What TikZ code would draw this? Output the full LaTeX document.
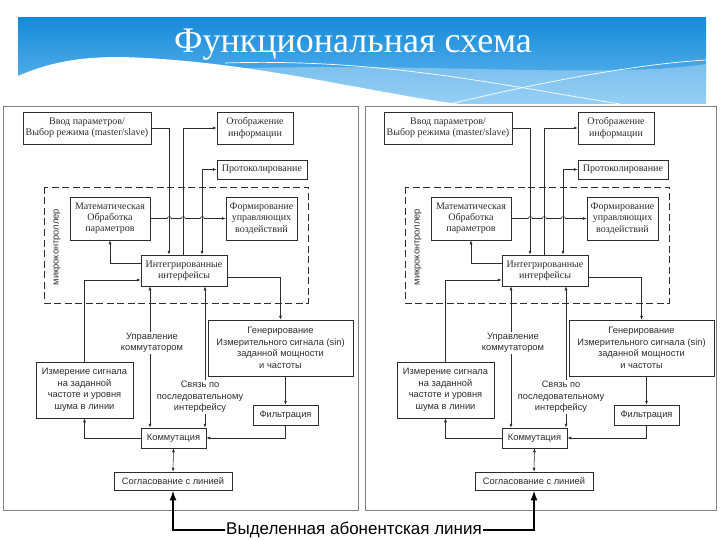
\documentclass[tikz,border=0pt]{standalone}
\usepackage{fontspec}
\setmainfont{Liberation Serif}
\setsansfont{Liberation Sans}
\usetikzlibrary{arrows.meta}

\newcommand{\boxrm}{\rmfamily\fontsize{10}{11.2}\selectfont}
\newcommand{\boxsf}{\sffamily\fontsize{9.3}{11.5}\selectfont}
\definecolor{bannerdark}{RGB}{22,138,218}
\definecolor{bannerlight}{RGB}{105,188,240}
\definecolor{ink}{RGB}{45,45,45}

\tikzset{
  blk/.style={draw=ink, line width=0.5pt, fill=white, align=center, inner sep=1pt, text=ink, font=\boxrm},
  sblk/.style={blk, font=\boxsf},
  conn/.style={draw=ink, line width=0.55pt},
  arr/.style={conn, -{Latex[length=4pt,width=3pt]}},
  darr/.style={conn, {Latex[length=4pt,width=3pt]}-{Latex[length=4pt,width=3pt]}},
  lbl/.style={fill=white, align=center, text=ink, font=\boxsf, inner sep=1pt},
  abline/.style={line width=2pt, -{Latex[length=10pt,width=7pt]}}
}

\begin{document}
\begin{tikzpicture}[x=1pt,y=-1pt]
\useasboundingbox (0,0) rectangle (720,540);

% banner
\shade[top color=bannerdark, bottom color=bannerlight] (18,18) rectangle (706,104);
\fill[white, opacity=0.3] (200,70) .. controls (400,60) and (600,80) .. (706,64) -- (706,104) -- (300,104) -- cycle;
\fill[white] (18,76) .. controls (50,62) and (80,57) .. (120,57) .. controls (250,60) and (380,95) .. (460,104) -- (18,104) -- cycle;
\draw[white, line width=0.7pt] (225,63) .. controls (380,58) and (500,85) .. (620,104);
\draw[white, line width=0.7pt] (450,104) .. controls (550,80) and (640,64) .. (706,60);
\node[text=white, font=\fontsize{36}{38}\selectfont, anchor=base] (title) at (353,53) {Функциональная схема};

% panels
\draw[gray, line width=0.8pt] (3,106) rectangle (358,510);
\draw[gray, line width=0.8pt] (365,106) rectangle (716,510);

\foreach \p/\dx in {l/0, r/361}{
\begin{scope}[xshift=\dx]
  \draw[ink, line width=0.5pt, dash pattern=on 7pt off 3.5pt] (44,187) rectangle (308,303);
  \node[sblk, draw=none, fill=none, rotate=90] (\p mk) at (57,247) {микроконтроллер};

  \node[blk, minimum width=128, minimum height=32] (\p vvod) at (87,128) {Ввод параметров/\\Выбор режима (master/slave)};
  \node[blk, minimum width=76, minimum height=32] (\p otobr) at (255,128) {Отображение\\информации};
  \node[blk, minimum width=90, minimum height=19] (\p protok) at (262,169.5) {Протоколирование};
  \node[blk, minimum width=80, minimum height=43] (\p matem) at (110,218.5) {Математическая\\Обработка\\параметров};
  \node[blk, minimum width=71, minimum height=43] (\p form) at (261.5,218.5) {Формирование\\управляющих\\воздействий};
  \node[blk, minimum width=86, minimum height=31] (\p integr) at (184,270.5) {Интегрированные\\интерфейсы};
  \node[sblk, minimum width=145, minimum height=56] (\p gener) at (280.5,348) {Генерирование\\Измерительного сигнала (sin)\\заданной мощности\\и частоты};
  \node[sblk, minimum width=65, minimum height=20] (\p filtr) at (285.5,415) {Фильтрация};
  \node[sblk, minimum width=97, minimum height=56] (\p izmer) at (84.5,390) {Измерение сигнала\\на заданной\\частоте и уровня\\шума в линии};
  \node[sblk, minimum width=65, minimum height=20] (\p komm) at (173.5,438) {Коммутация};
  \node[sblk, minimum width=118, minimum height=18] (\p sogl) at (173,481) {Согласование с линией};

  \draw[arr] (\p vvod.east) -| ([xshift=-15pt]\p integr.north);
  \draw[arr] ([xshift=-1pt]\p integr.north) |- (\p otobr.west);
  \draw[darr] ([xshift=18pt]\p integr.north) |- (\p protok.west);
  \draw[arr] (\p matem.east) -- ++(17,0) arc[start angle=180, end angle=360, radius=2]
    -- ++(10,0) arc[start angle=180, end angle=360, radius=2]
    -- ++(15,0) arc[start angle=180, end angle=360, radius=2] -- (\p form.west);
  \draw[arr] ([yshift=7.5pt]\p integr.west) -| (\p matem.south);
  \draw[arr] (\p izmer.north) |- ([yshift=-9.5pt]\p integr.west);
  \draw[arr] ([yshift=-6.5pt]\p integr.east) -| (\p gener.north);
  \draw[arr] (\p filtr.north |- \p gener.south) -- (\p filtr.north);
  \draw[arr] (\p filtr.south) |- (\p komm.east);
  \draw[arr] (\p komm.west) -| (\p izmer.south);
  \draw[darr] ([xshift=-34pt]\p integr.south) -- ([xshift=-34pt]\p integr.south |- \p komm.north);
  \draw[darr] ([xshift=21pt]\p integr.south) -- ([xshift=21pt]\p integr.south |- \p komm.north);
  \draw[darr] (\p komm.south) -- (\p sogl.north);

  \node[lbl] (\p upr) at (152,343) {Управление\\коммутатором};
  \node[lbl] (\p svz) at (200,397) {Связь по\\последовательному\\интерфейсу};
\end{scope}
}

% subscriber line
\node[font=\sffamily\fontsize{17}{20}\selectfont, inner sep=1pt] (abon) at (354,530) {Выделенная абонентская линия};
\draw[abline] (abon.west) -| (lsogl.south);
\draw[abline] (abon.east) -| (rsogl.south);
\end{tikzpicture}
\end{document}
